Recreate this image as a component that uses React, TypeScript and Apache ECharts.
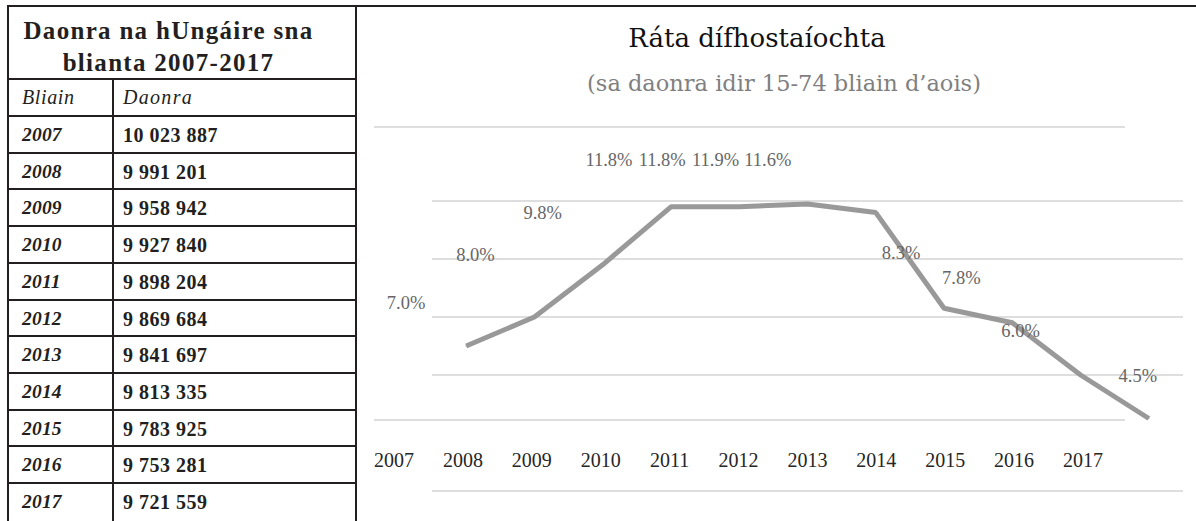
import React, { useEffect, useRef } from 'react';
import * as echarts from 'echarts';

// ---- data ----
const tableTitle = ['Daonra na hUngáire sna', 'blianta 2007-2017'];
const tableHeader = ['Bliain', 'Daonra'];
const years = ['2007', '2008', '2009', '2010', '2011', '2012', '2013', '2014', '2015', '2016', '2017'];
const population = [10023887, 9991201, 9958942, 9927840, 9898204, 9869684, 9841697, 9813335, 9783925, 9753281, 9721559];

const chartTitle = 'Ráta dífhostaíochta';
const chartSubtitle = '(sa daonra idir 15-74 bliain d’aois)';
const unemployment = [7.0, 8.0, 9.8, 11.8, 11.8, 11.9, 11.6, 8.3, 7.8, 6.0, 4.5];

// ---- styling (label placement as in the reference) ----
const labelOffsets = [
  [-60, -43], [-59, -62], [-60, -52], [-62, -47], [-77, -47], [-92, -44],
  [-108, -53], [-43, -55], [-51, -45], [-60, -44], [-11, -43],
];

const SERIF = '"Liberation Serif", serif';
const WIDE = '"DejaVu Serif", serif';
const INK = '#231f20';
const GRID = '#dedede';

const fmtPop = (n: number) => n.toString().replace(/\B(?=(\d{3})+(?!\d))/g, ' ');

export default function App() {
  const ref = useRef<HTMLDivElement>(null);

  useEffect(() => {
    if (!ref.current) return;
    const chart = echarts.init(ref.current, undefined, { renderer: 'svg' });
    const option: any = {
      animation: false,
      grid: [
        { left: 74, right: 13, top: 201, bottom: 30 },
        { left: 16, right: 71, top: 127, bottom: 101 },
        { left: 36, right: 113, top: 400, bottom: 101 },
      ],
      xAxis: [
        { gridIndex: 0, type: 'category', data: years, boundaryGap: true, show: false },
        { gridIndex: 1, type: 'value', min: 0, max: 1, show: false },
        {
          gridIndex: 2, type: 'category', data: years, boundaryGap: false,
          axisLine: { show: false }, axisTick: { show: false }, splitLine: { show: false },
          axisLabel: { interval: 0, margin: 30, fontFamily: SERIF, fontSize: 20, color: '#262626' },
        },
      ],
      yAxis: [
        {
          gridIndex: 0, type: 'value', min: 2, max: 12, interval: 2,
          axisLabel: { show: false }, axisLine: { show: false }, axisTick: { show: false },
          splitLine: { show: true, lineStyle: { color: [GRID, 'rgba(0,0,0,0)', GRID, GRID, GRID, GRID], width: 2 } },
        },
        {
          gridIndex: 1, type: 'value', min: 0, max: 1, interval: 1,
          axisLabel: { show: false }, axisLine: { show: false }, axisTick: { show: false },
          splitLine: { show: true, lineStyle: { color: GRID, width: 2 } },
        },
        { gridIndex: 2, type: 'value', show: false },
      ],
      graphic: [
        {
          type: 'text', x: 399, y: 38, silent: true,
          style: { text: chartTitle, align: 'center', verticalAlign: 'middle', fontFamily: WIDE, fontSize: 26, fill: '#111' },
        },
        {
          type: 'text', x: 426, y: 83, silent: true,
          style: { text: chartSubtitle, align: 'center', verticalAlign: 'middle', fontFamily: WIDE, fontSize: 22.5, fill: '#7f7f7f' },
        },
      ],
      series: [
        {
          type: 'line',
          xAxisIndex: 0,
          yAxisIndex: 0,
          silent: true,
          symbol: 'circle',
          symbolSize: 1,
          showSymbol: true,
          lineStyle: { color: '#999999', width: 5 },
          itemStyle: { color: '#999999' },
          label: {
            show: true,
            position: 'inside',
            align: 'center',
            verticalAlign: 'middle',
            fontFamily: SERIF,
            fontSize: 18.5,
            color: '#666666',
            formatter: (p: any) => Number(p.value).toFixed(1) + '%',
          },
          data: unemployment.map((v, i) => ({ value: v, label: { offset: labelOffsets[i] } })),
        },
      ],
    };
    chart.setOption(option);
    return () => chart.dispose();
  }, []);

  const rowLine = (i: number) => 116 + i * 36.7; // centre of row separator lines

  const hLine = (y: number, x1: number, x2: number, key: string) => (
    <div key={key} style={{ position: 'absolute', left: x1, top: y - 1, width: x2 - x1, height: 2, background: INK }} />
  );

  return (
    <div style={{ position: 'fixed', left: 0, top: 0, width: 1196, height: 521, background: '#fff', overflow: 'hidden', fontFamily: SERIF, color: INK }}>
      {/* borders */}
      {hLine(6, 7, 1196, 'top')}
      <div style={{ position: 'absolute', left: 7, top: 5, width: 2, height: 516, background: INK }} />
      <div style={{ position: 'absolute', left: 355, top: 5, width: 2, height: 516, background: INK }} />
      <div style={{ position: 'absolute', left: 112, top: 79, width: 2, height: 442, background: INK }} />
      {hLine(79, 7, 357, 'h0')}
      {years.map((_, i) => hLine(rowLine(i), 7, 357, 'r' + i))}

      {/* table title */}
      <div style={{ position: 'absolute', left: 7, top: 15, width: 323, textAlign: 'center', fontWeight: 'bold', fontSize: 25, letterSpacing: 1.3, lineHeight: '32px' }}>
        {tableTitle.map((t, i) => <div key={i}>{t}</div>)}
      </div>

      {/* header */}
      <div style={{ position: 'absolute', left: 22, top: 79, fontStyle: 'italic', fontSize: 20, letterSpacing: 0.6, lineHeight: '36px' }}>{tableHeader[0]}</div>
      <div style={{ position: 'absolute', left: 123, top: 79, fontStyle: 'italic', fontSize: 20, letterSpacing: 1.3, lineHeight: '36px' }}>{tableHeader[1]}</div>

      {/* rows */}
      {years.map((y, i) => (
        <React.Fragment key={y}>
          <div style={{ position: 'absolute', left: 22, top: rowLine(i) + 1, fontStyle: 'italic', fontWeight: 'bold', fontSize: 19.5, letterSpacing: 0.2, lineHeight: '36px' }}>{y}</div>
          <div style={{ position: 'absolute', left: 123, top: rowLine(i) + 1, fontWeight: 'bold', fontSize: 20, letterSpacing: 0.5, lineHeight: '36px', whiteSpace: 'pre' }}>{fmtPop(population[i])}</div>
        </React.Fragment>
      ))}

      {/* chart */}
      <div ref={ref} style={{ position: 'absolute', left: 358, top: 0, width: 838, height: 521 }} />
    </div>
  );
}
